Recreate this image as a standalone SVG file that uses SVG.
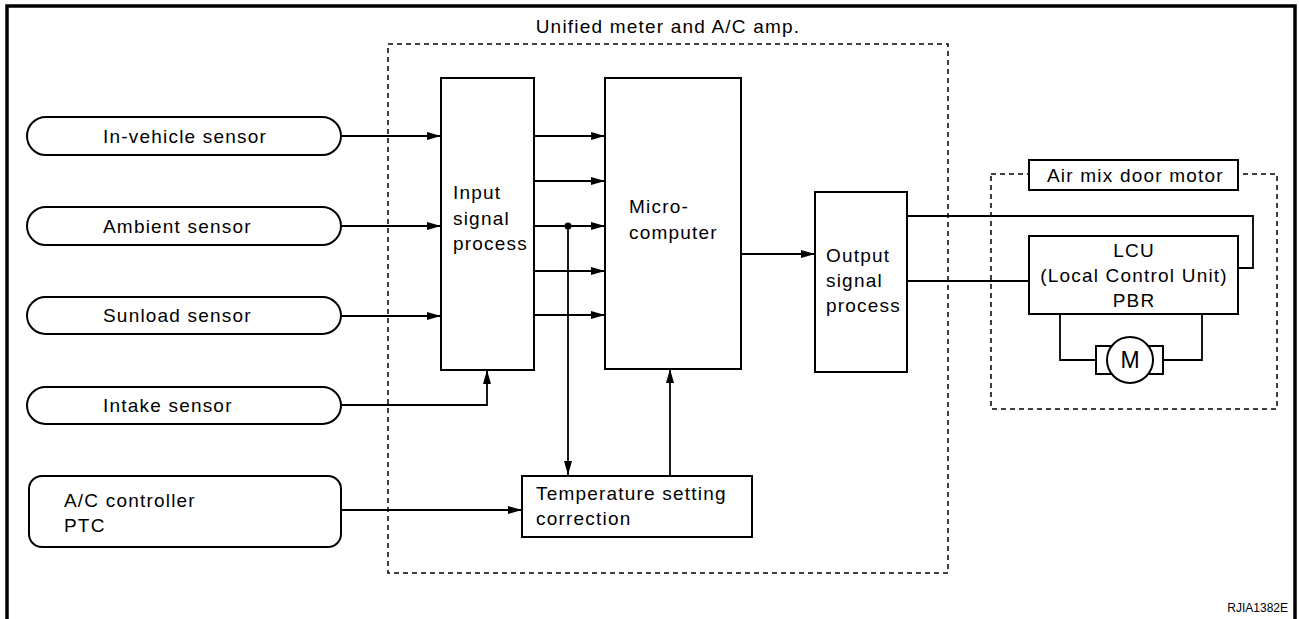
<svg xmlns="http://www.w3.org/2000/svg" width="1299" height="619" viewBox="0 0 1299 619">
<style>
text{font-family:"Liberation Sans",Arial,sans-serif;font-size:19px;letter-spacing:1.2px;fill:#000}
.box{fill:#fff;stroke:#000;stroke-width:2}
.dash{fill:none;stroke:#000;stroke-width:1.5;stroke-dasharray:5,4}
.ln{fill:none;stroke:#000;stroke-width:1.8}
.arr{fill:none;stroke:#000;stroke-width:1.8;marker-end:url(#ah)}
</style>
<defs>
<marker id="ah" viewBox="0 0 14 8" refX="14" refY="4" markerWidth="14" markerHeight="8" markerUnits="userSpaceOnUse" orient="auto">
<path d="M0,0 L14,4 L0,8 Z" fill="#000"/>
</marker>
</defs>
<rect x="0" y="0" width="1299" height="619" fill="#fff"/>
<path d="M7,619 V6 H1295 V619" fill="none" stroke="#000" stroke-width="3.5"/>

<g id="unified">
<rect class="dash" x="388" y="44" width="560" height="529"/>
<text x="668" y="33" text-anchor="middle">Unified meter and A/C amp.</text>
</g>

<g id="in-vehicle"><rect class="box" x="27" y="117" width="314" height="38" rx="19"/><text x="103" y="143">In-vehicle sensor</text></g>
<g id="ambient"><rect class="box" x="27" y="207" width="314" height="38" rx="19"/><text x="103" y="233">Ambient sensor</text></g>
<g id="sunload"><rect class="box" x="27" y="297" width="314" height="37" rx="18.5"/><text x="103" y="322">Sunload sensor</text></g>
<g id="intake"><rect class="box" x="27" y="387" width="314" height="37" rx="18.5"/><text x="103" y="412">Intake sensor</text></g>
<g id="ac-controller"><rect class="box" x="29" y="476" width="312" height="71" rx="13"/><text x="64" y="507">A/C controller</text><text x="64" y="532">PTC</text></g>

<g id="input"><rect class="box" x="441" y="78" width="93" height="292"/><text x="453" y="199">Input</text><text x="453" y="225">signal</text><text x="453" y="250">process</text></g>
<g id="micro"><rect class="box" x="605" y="78" width="136" height="291"/><text x="629" y="213">Micro-</text><text x="629" y="239">computer</text></g>
<g id="temp"><rect class="box" x="522" y="476" width="230" height="61"/><text x="536" y="500">Temperature setting</text><text x="536" y="525">correction</text></g>
<g id="output"><rect class="box" x="815" y="192" width="92" height="180"/><text x="826" y="262">Output</text><text x="826" y="287">signal</text><text x="826" y="312">process</text></g>

<g id="air-mix">
<rect class="dash" x="991" y="174" width="286" height="235"/>
<rect class="box" x="1029" y="160" width="209" height="30"/>
<text x="1047" y="182">Air mix door motor</text>
</g>
<g id="lcu"><rect class="box" x="1029" y="236" width="209" height="78"/>
<text x="1134" y="257" text-anchor="middle">LCU</text>
<text x="1134" y="282" text-anchor="middle">(Local Control Unit)</text>
<text x="1134" y="307" text-anchor="middle">PBR</text></g>

<g id="connectors">
<path class="arr" d="M341,136 H441"/>
<path class="arr" d="M341,226 H441"/>
<path class="arr" d="M341,316 H441"/>
<path class="arr" d="M341,405 H487 V370"/>
<path class="arr" d="M534,136 H605"/>
<path class="arr" d="M534,181 H605"/>
<path class="arr" d="M534,226 H605"/>
<path class="arr" d="M534,271 H605"/>
<path class="arr" d="M534,315 H605"/>
<circle cx="568" cy="226" r="3.5" fill="#000"/>
<path class="arr" d="M568,226 V475"/>
<path class="arr" d="M341,510 H522"/>
<path class="arr" d="M670,476 V369"/>
<path class="arr" d="M741,254 H815"/>
<path class="ln" d="M907,281 H1029"/>
<path class="ln" d="M907,216 H1253 V268 H1238"/>
<path class="ln" d="M1060,314 V360 H1096"/>
<path class="ln" d="M1163,360 H1202 V314"/>
</g>

<g id="motor">
<rect class="box" x="1096" y="346" width="67" height="28"/>
<circle cx="1130" cy="360" r="23" fill="#fff" stroke="#000" stroke-width="2"/>
<text x="1130" y="368" text-anchor="middle" style="font-size:23px;letter-spacing:0">M</text>
</g>

<text x="1288" y="612" text-anchor="end" style="font-size:12px;letter-spacing:0">RJIA1382E</text>
</svg>
